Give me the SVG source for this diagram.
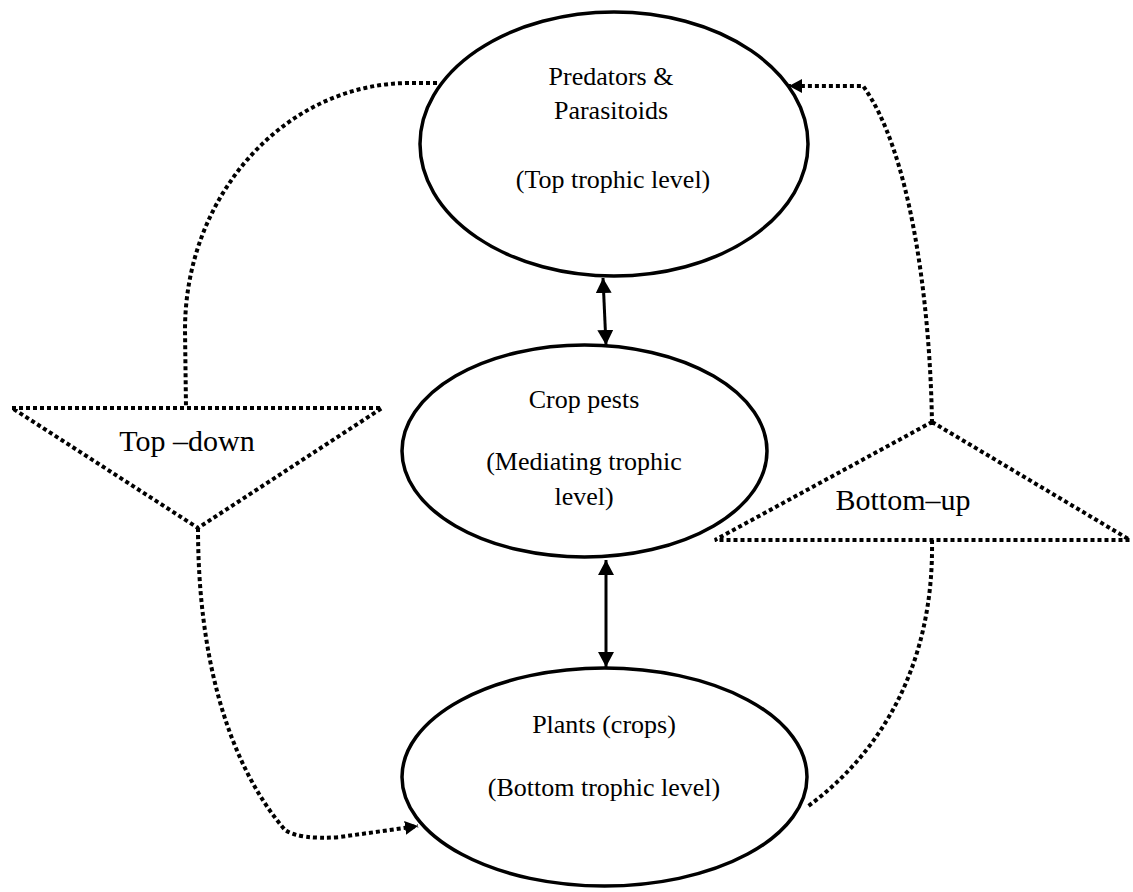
<svg xmlns="http://www.w3.org/2000/svg" width="1133" height="892" viewBox="0 0 1133 892">
  <style>
    .node { fill: #ffffff; stroke: #000000; stroke-width: 3.5; }
    .lbl { font-family: "Liberation Serif", "Times New Roman", serif; font-size: 26px; fill: #000000; text-anchor: middle; }
    .big { font-family: "Liberation Serif", "Times New Roman", serif; font-size: 30px; fill: #000000; text-anchor: middle; }
    .dot { fill: none; stroke: #000000; stroke-width: 4; stroke-dasharray: 4 3; }
    .solid { fill: none; stroke: #000000; stroke-width: 3; }
  </style>
  <defs>
    <marker id="ah" viewBox="0 0 15 16" refX="15" refY="8" markerWidth="15" markerHeight="16" markerUnits="userSpaceOnUse" orient="auto-start-reverse">
      <path d="M0,0 L15,8 L0,16 Z" fill="#000000"/>
    </marker>
    <marker id="ahs" viewBox="0 0 13 14" refX="13" refY="7" markerWidth="13" markerHeight="14" markerUnits="userSpaceOnUse" orient="auto">
      <path d="M0,0 L13,7 L0,14 Z" fill="#000000"/>
    </marker>
  </defs>
  <rect width="1133" height="892" fill="#ffffff"/>

  <g id="connectors">
    <path class="dot" d="M 437 83 L 410 83 C 286 83, 185 194, 185 330 L 186 408"/>
    <path class="dot" d="M 198 528 C 198 650, 225 760, 285 830 Q 300 840, 340 837 L 418 826" marker-end="url(#ahs)"/>
    <path class="dot" d="M 932 540 C 934 660, 885 750, 807 807"/>
    <path class="dot" d="M 932 423 C 930 300, 910 150, 863 86 L 789 86" marker-end="url(#ahs)"/>
    <line class="solid" x1="603" y1="278" x2="606" y2="345" marker-start="url(#ah)" marker-end="url(#ah)"/>
    <line class="solid" x1="606" y1="560" x2="606" y2="667" marker-start="url(#ah)" marker-end="url(#ah)"/>
  </g>

  <g id="top-down">
    <polygon class="dot" points="12,408 382,408 198,528"/>
    <text class="big" x="187" y="451">Top –down</text>
  </g>

  <g id="bottom-up">
    <polygon class="dot" points="932,422 1130,540 715,540"/>
    <text class="big" x="903" y="510">Bottom–up</text>
  </g>

  <g id="predators">
    <ellipse class="node" cx="614" cy="144" rx="194" ry="132"/>
    <text class="lbl" x="611" y="85">Predators &amp;</text>
    <text class="lbl" x="611" y="119">Parasitoids</text>
    <text class="lbl" x="613" y="188">(Top trophic level)</text>
  </g>

  <g id="pests">
    <ellipse class="node" cx="584.5" cy="451" rx="182.5" ry="106"/>
    <text class="lbl" x="584" y="408">Crop pests</text>
    <text class="lbl" x="584" y="470">(Mediating trophic</text>
    <text class="lbl" x="584" y="505">level)</text>
  </g>

  <g id="plants">
    <ellipse class="node" cx="604.5" cy="777" rx="202.5" ry="109"/>
    <text class="lbl" x="604" y="733">Plants (crops)</text>
    <text class="lbl" x="604" y="796">(Bottom trophic level)</text>
  </g>
</svg>
